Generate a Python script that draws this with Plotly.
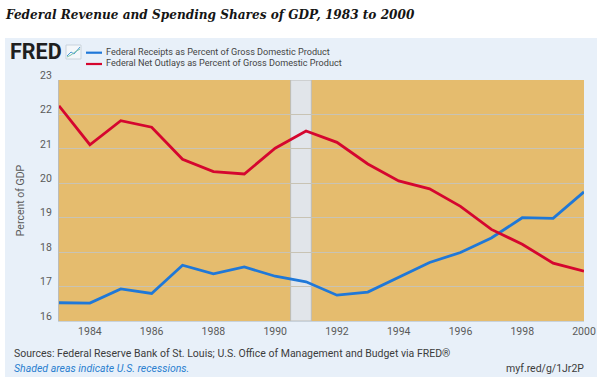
import plotly.graph_objects as go

years = list(range(1983, 2001))
receipts = [16.53, 16.52, 16.93, 16.8, 17.62, 17.37, 17.57, 17.3, 17.14, 16.75, 16.84, 17.28, 17.7, 17.99, 18.41, 19.0, 18.98, 19.75]
outlays = [22.25, 21.12, 21.82, 21.63, 20.7, 20.34, 20.27, 21.02, 21.52, 21.19, 20.56, 20.07, 19.84, 19.33, 18.66, 18.23, 17.68, 17.45]
recession = [1990.5, 1991.17]
x_ticks = list(range(1984, 2001, 2))
y_ticks = list(range(16, 24))
name_receipts = "Federal Receipts as Percent of Gross Domestic Product"
name_outlays = "Federal Net Outlays as Percent of Gross Domestic Product"
title = "Federal Revenue and Spending Shares of GDP, 1983 to 2000"
sources = "Sources: Federal Reserve Bank of St. Louis; U.S. Office of Management and Budget via FRED®"
shaded = "Shaded areas indicate U.S. recessions."
link = "myf.red/g/1Jr2P"

BLUE, RED = "#1f78d8", "#d5062f"
W, H = 600, 377
L, R, T, B = 59, 16, 80, 56
pw, ph = W - L - R, H - T - B
def px(v): return (v - L) / pw
def py(v): return 1 - (v - T) / ph

fig = go.Figure()
fig.add_trace(go.Scatter(x=years, y=receipts, name=name_receipts, mode="lines",
                         line=dict(color=BLUE, width=2.8), showlegend=False))
fig.add_trace(go.Scatter(x=years, y=outlays, name=name_outlays, mode="lines",
                         line=dict(color=RED, width=2.8), showlegend=False))

def seg(y, color):
    return dict(type="line", xref="paper", yref="paper", x0=px(86), x1=px(102), y0=py(y), y1=py(y),
                line=dict(color=color, width=2.2), layer="above")

shapes = [
    dict(type="rect", xref="paper", yref="paper", x0=px(5), x1=px(597), y0=py(377), y1=py(38),
         fillcolor="#e8f0f9", line_width=0, layer="below"),
    dict(type="rect", xref="x", yref="y", x0=1983, x1=2000, y0=16, y1=23,
         fillcolor="#e5bc6e", line_width=0, layer="below"),
    dict(type="rect", xref="x", yref="y", x0=recession[0], x1=recession[1], y0=16, y1=23,
         fillcolor="#e1e5ea", line=dict(color="#bcbcb8", width=1), layer="below"),
    dict(type="rect", xref="paper", yref="paper", x0=px(66), x1=px(81), y0=py(59), y1=py(45),
         fillcolor="#f4f7fa", line=dict(color="#c9d3dc", width=1), layer="above"),
    dict(type="path", xref="paper", yref="paper", layer="above",
         path=f"M {px(67)} {py(56)} L {px(71)} {py(52)} L {px(74)} {py(54)} L {px(80)} {py(47)}",
         line=dict(color="#4d9bd8", width=1)),
    dict(type="path", xref="paper", yref="paper", layer="above",
         path=f"M {px(67)} {py(57)} L {px(71)} {py(55)} L {px(75)} {py(52)} L {px(80)} {py(49)}",
         line=dict(color="#7cc5a8", width=1)),
    seg(52.7, BLUE), seg(64, RED),
]

def note(text, x, y, size, color, anchor="left", family="Roboto"):
    return dict(text=text, xref="paper", yref="paper", x=px(x), y=py(y), xanchor=anchor, yanchor="middle",
                showarrow=False, font=dict(size=size, color=color, family=family))

annotations = [
    note(f"<b><i>{title}</i></b>", 3, 15, 12.1, "#151515", family="DejaVu Serif"),
    note("<b>FRED</b>", 8, 52, 21.5, "#1f1f1f"),
    note(name_receipts, 104, 51.7, 9.1, "#444444"),
    note(name_outlays, 104, 62.7, 9.1, "#444444"),
    note(sources, 11.5, 353, 10.5, "#3c3c3c"),
    note(f"<i>{shaded}</i>", 11.5, 368, 10.5, "#2a7fd0"),
    note(link, 586, 368, 10.5, "#3c3c3c", anchor="right"),
]

fig.update_layout(
    width=W, height=H, margin=dict(l=L, r=R, t=T, b=B, pad=0),
    paper_bgcolor="white", plot_bgcolor="#e5bc6e", showlegend=False,
    shapes=shapes, annotations=annotations,
    font=dict(family="Roboto", color="#5a5a5a", size=10.5),
    xaxis=dict(range=[1983, 2000], tickmode="array", tickvals=x_ticks, showgrid=False, zeroline=False, automargin=False,
               showline=True, linecolor="#c8d2dc", linewidth=1, ticks="",
               tickfont=dict(size=10.5, color="#5a5a5a")),
    yaxis=dict(range=[16, 23], tickmode="array", tickvals=y_ticks, showgrid=True, gridcolor="#c8c3b4", gridwidth=1, automargin=False,
               zeroline=False, showline=True, linecolor="#bcbcb8", linewidth=1, ticks="", ticklabelshift=-5, ticklabelstandoff=4,
               tickfont=dict(size=10.5, color="#5a5a5a"),
               title=dict(text="Percent of GDP", font=dict(size=10.5, color="#5a5a5a"), standoff=13)),
)
fig.write_html("out.html", config={"responsive": False, "displayModeBar": False},
               post_script="document.body.style.margin='0';document.body.style.overflow='hidden';")
